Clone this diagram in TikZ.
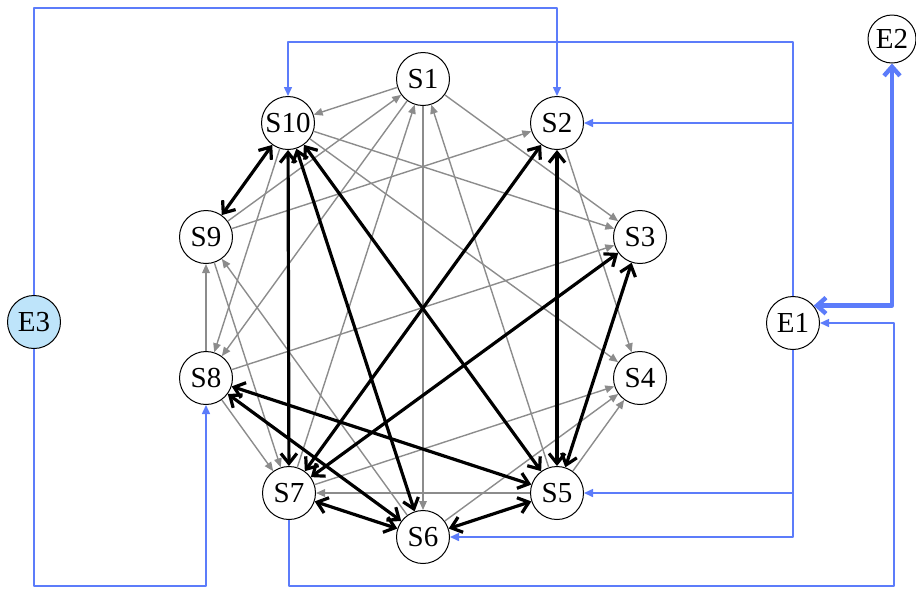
\documentclass[tikz,border=0pt]{standalone}
\usepackage{fontspec}
\setmainfont{Liberation Serif}
\usetikzlibrary{arrows.meta}
\definecolor{flow}{RGB}{92,124,250}
\definecolor{link}{RGB}{140,140,140}
\definecolor{src}{RGB}{190,228,250}
\tikzset{st/.style={circle,draw,line width=.5pt,fill=white,minimum size=26.5pt,inner sep=0pt,font=\fontsize{14.5}{14.5}\selectfont}}
\tikzset{gr/.style={draw=link,line width=.7pt,-{Triangle[length=4.5pt,width=3.8pt]}}}
\tikzset{bk/.style={line width=1.6pt,{Straight Barb[length=5pt,width=8pt]}-{Straight Barb[length=5pt,width=8pt]}}}
\tikzset{bl/.style={draw=flow,line width=.75pt,-{Triangle[length=4.5pt,width=4pt]}}}
\tikzset{blk/.style={draw=flow,line width=2.2pt,{Straight Barb[length=4.5pt,width=8pt]}-{Straight Barb[length=4.5pt,width=8pt]}}}

\begin{document}
\begin{tikzpicture}[x=.5pt,y=-.5pt,line join=round]
\useasboundingbox (0,0) rectangle (916,590);
% states on the ring
\node[st] (S1) at (423,79) {S1};
\node[st] (S2) at (557,123) {S2};
\node[st] (S3) at (640,237) {S3};
\node[st] (S4) at (640,378) {S4};
\node[st] (S5) at (557,493) {S5};
\node[st] (S6) at (423,537) {S6};
\node[st] (S7) at (289,493) {S7};
\node[st] (S8) at (206,378) {S8};
\node[st] (S9) at (206,237) {S9};
\node[st] (S10) at (288,123) {S10};
% outer nodes
\node[st] (E1) at (793,323) {E1};
\node[st,minimum size=24pt] (E2) at (892,39) {E2};
\node[st,fill=src] (E3) at (34,322) {E3};
\coordinate (t1) at (34,8);
\coordinate (t2) at (793,42);
\coordinate (b1) at (34,586);
\coordinate (b2) at (894,586);
% one way links
\draw[gr] (S1) -- (S10);
\draw[gr] (S1) -- (S3);
\draw[gr] (S1) -- (S6);
\draw[gr] (S1) -- (S8);
\draw[gr] (S7) -- (S1);
\draw[gr] (S9) -- (S1);
\draw[gr] (S5) -- (S1);
\draw[gr] (S9) -- (S2);
\draw[gr] (S2) -- (S4);
\draw[gr] (S10) -- (S3);
\draw[gr] (S8) -- (S3);
\draw[gr] (S10) -- (S4);
\draw[gr] (S7) -- (S4);
\draw[gr] (S6) -- (S4);
\draw[gr] (S5) -- (S4);
\draw[gr] (S5) -- (S7);
\draw[gr] (S6) -- (S9);
\draw[gr] (S10) -- (S8);
\draw[gr] (S8) -- (S9);
\draw[gr] (S8) -- (S7);
\draw[gr] (S9) -- (S7);
% two way links
\draw[bk] (S10) -- (S9);
\draw[bk] (S10) -- (S7);
\draw[bk] (S10) -- (S6);
\draw[bk] (S10) -- (S5);
\draw[bk] (S2) -- (S7);
\draw[bk] (S2) -- (S5);
\draw[bk] (S3) -- (S7);
\draw[bk] (S3) -- (S5);
\draw[bk] (S8) -- (S6);
\draw[bk] (S8) -- (S5);
\draw[bk] (S7) -- (S6);
\draw[bk] (S6) -- (S5);
% routed flows
\draw[bl] (E3) -- (t1) -| (S2);
\draw[bl] (E3) -- (b1) -| (S8);
\draw[bl] (E1) -- (t2) -| (S10);
\draw[bl] (E1) |- (S2);
\draw[bl] (E1) |- (S5);
\draw[bl] (E1) |- (S6);
\draw[bl] (S7) |- (b2) |- (E1);
\draw[blk] (E2) |- (E1.40);
\end{tikzpicture}
\end{document}
